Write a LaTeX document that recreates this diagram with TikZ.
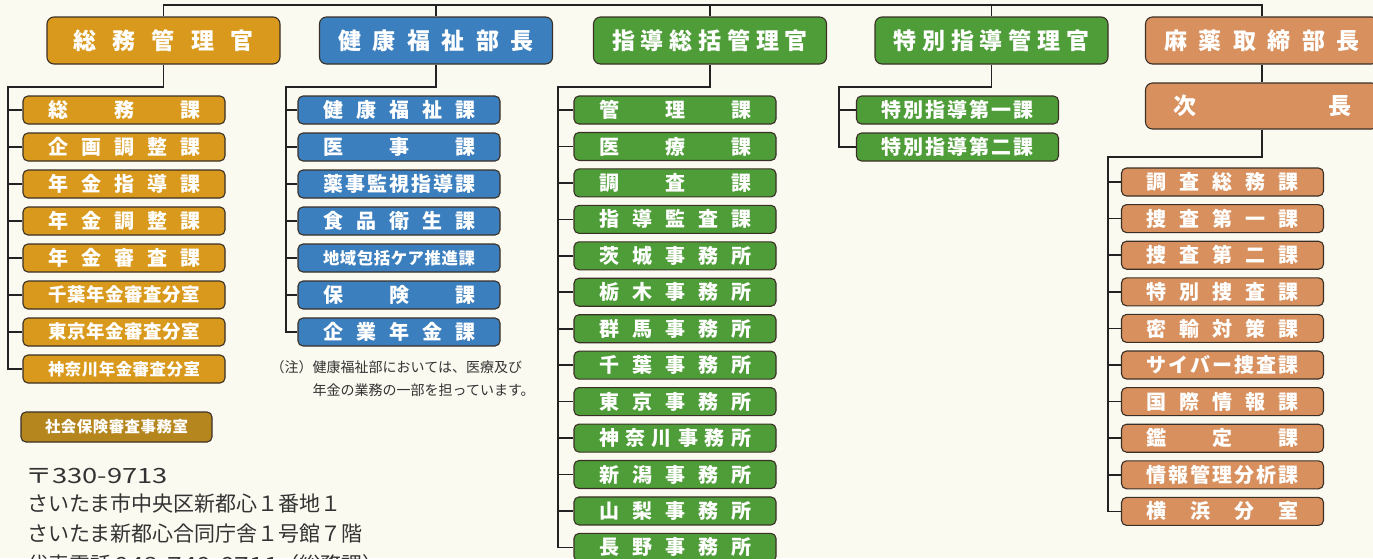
\documentclass[tikz,border=0pt]{standalone}
\usepackage{fontspec}
\setmainfont{Noto Sans CJK JP}
\usepackage{graphicx}
\definecolor{bg}{HTML}{FBFAF1}
\definecolor{cgold}{HTML}{D9991C}
\definecolor{cdgold}{HTML}{B5861E}
\definecolor{cblue}{HTML}{3C7FBE}
\definecolor{cgreen}{HTML}{4E9D38}
\definecolor{cpeach}{HTML}{D8915E}
\definecolor{edge}{HTML}{3A3026}
\definecolor{wirec}{HTML}{222222}
\definecolor{txt}{HTML}{333333}
\ExplSyntaxOn
\bool_new:N \l_my_first_bool
\tl_new:N \l_my_text_tl
\int_new:N \l_my_n_int
\dim_new:N \l_my_size_dim
\dim_new:N \l_my_fit_dim
\NewDocumentCommand \spread { m m m }
 {
  \tl_set:No \l_my_text_tl {#3}
  \int_set:Nn \l_my_n_int { \tl_count:N \l_my_text_tl }
  \dim_set:Nn \l_my_size_dim {#2}
  \dim_set:Nn \l_my_fit_dim { #1 * 97 / 100 / \l_my_n_int }
  \dim_compare:nNnT { \l_my_fit_dim } < { \l_my_size_dim }
   { \dim_set_eq:NN \l_my_size_dim \l_my_fit_dim }
  \fontsize{\dim_to_decimal:n {\l_my_size_dim}}{\dim_to_decimal:n {\l_my_size_dim}}\selectfont
  \makebox[#1][s]
   {
    \bool_set_true:N \l_my_first_bool
    \tl_map_inline:Nn \l_my_text_tl
     {
      \bool_if:NF \l_my_first_bool { \hfill }
      \bool_set_false:N \l_my_first_bool
      ##1
     }
   }
 }
\ExplSyntaxOff
\begin{document}
\begin{tikzpicture}[x=1pt,y=-1pt,
 hdr/.style={draw=edge,line width=1.1pt,rounded corners=7pt,minimum width=233pt,minimum height=47pt,inner sep=0pt,text=white,font=\bfseries},
 sub/.style={draw=edge,line width=1.1pt,rounded corners=5pt,minimum width=202pt,minimum height=28pt,inner sep=0pt,text=white,font=\bfseries},
 wire/.style={draw=wirec,line width=1.6pt},
 addr/.style={anchor=base west,inner sep=0pt,text=txt,font=\fontsize{21}{21}\selectfont},
 note/.style={anchor=base west,inner sep=0pt,text=txt,font=\fontsize{14}{14}\selectfont}]
\useasboundingbox (0,0) rectangle (1373,558);
\clip (0,0) rectangle (1373,558);
\fill[bg] (0,0) rectangle (1373,558);

% headers
\node[hdr,fill=cgold]  (h1) at (163.5,40.5) {\spread{180pt}{23pt}{総務管理官}};
\node[hdr,fill=cblue]  (h2) at (436,40.5)   {\spread{196pt}{23pt}{健康福祉部長}};
\node[hdr,fill=cgreen] (h3) at (710,40.5)   {\spread{196pt}{23pt}{指導総括管理官}};
\node[hdr,fill=cgreen] (h4) at (991.5,40.5) {\spread{196pt}{23pt}{特別指導管理官}};
\node[hdr,fill=cpeach] (h5) at (1262,40.5)  {\spread{196pt}{23pt}{麻薬取締部長}};
\node[hdr,fill=cpeach,minimum height=46pt] (d5) at (1262,106) {\spread{178pt}{23pt}{次長}};

% top bus
\coordinate (topy) at (0,5);
\draw[wire] (h1.north) -- (h1.north |- topy) -- (h5.north |- topy) -- (h5.north);
\foreach \h in {h2,h3,h4} \draw[wire] (\h.north) -- (\h.north |- topy);

% column 1
\foreach \tx [count=\i from 0] in {総務課,企画調整課,年金指導課,年金調整課,年金審査課,千葉年金審査分室,東京年金審査分室,神奈川年金審査分室}
  \node[sub,fill=cgold] (A\i) at (124,{110+37*\i}) {\spread{152pt}{20pt}{\tx}};
\coordinate (bus1) at (8,87);
\draw[wire] (h1.south) |- (bus1) |- (A7.west);
\foreach \i in {0,...,6} \draw[wire] (bus1 |- A\i.west) -- (A\i.west);

\node[sub,fill=cdgold,minimum width=191pt,minimum height=30pt] (S) at (116.5,427) {\spread{143pt}{16pt}{社会保険審査事務室}};

% column 2
\foreach \tx [count=\i from 0] in {健康福祉課,医事課,薬事監視指導課,食品衛生課,地域包括ケア推進課,保険課,企業年金課}
  \node[sub,fill=cblue] (B\i) at (399,{110+37*\i}) {\spread{152pt}{20pt}{\tx}};
\coordinate (bus2) at (286,87);
\draw[wire] (h2.south) |- (bus2) |- (B6.west);
\foreach \i in {0,...,5} \draw[wire] (bus2 |- B\i.west) -- (B\i.west);

\node[note] (n1) at (270.5,372) {（注）健康福祉部においては、医療及び};
\node[note] (n2) at (312.5,395) {年金の業務の一部を担っています。};

% column 3
\foreach \tx [count=\i from 0] in {管理課,医療課,調査課,指導監査課,茨城事務所,栃木事務所,群馬事務所,千葉事務所,東京事務所,神奈川事務所,新潟事務所,山梨事務所,長野事務所}
  \node[sub,fill=cgreen] (C\i) at (675,{110+36.45*\i}) {\spread{152pt}{20pt}{\tx}};
\coordinate (bus3) at (558,87);
\draw[wire] (h3.south) |- (bus3) |- (C12.west);
\foreach \i in {0,...,11} \draw[wire] (bus3 |- C\i.west) -- (C\i.west);

% column 4
\foreach \tx [count=\i from 0] in {特別指導第一課,特別指導第二課}
  \node[sub,fill=cgreen] (D\i) at (957.5,{110+37*\i}) {\spread{152pt}{20pt}{\tx}};
\coordinate (bus4) at (839,87);
\draw[wire] (h4.south) |- (bus4) |- (D1.west);
\draw[wire] (bus4 |- D0.west) -- (D0.west);

% column 5
\draw[wire] (h5.south) -- (d5.north);
\foreach \tx [count=\i from 0] in {調査総務課,捜査第一課,捜査第二課,特別捜査課,密輸対策課,サイバー捜査課,国際情報課,鑑定課,情報管理分析課,横浜分室}
  \node[sub,fill=cpeach] (E\i) at (1222.5,{182+36.6*\i}) {\spread{152pt}{20pt}{\tx}};
\coordinate (bus5) at (1108,157);
\draw[wire] (d5.south) |- (bus5) |- (E9.west);
\foreach \i in {0,...,8} \draw[wire] (bus5 |- E\i.west) -- (E\i.west);

% address
\node[addr] (p1) at (25,483) {\scalebox{1.3}[1]{〒330-9713}};
\node[addr] (p2) at (27,511) {さいたま市中央区新都心１番地１};
\node[addr] (p3) at (27,541) {さいたま新都心合同庁舎１号館７階};
\node[addr] (p4) at (27,572) {代表電話\,\scalebox{1.25}[1]{048-740-0711}（総務課）};
\end{tikzpicture}
\end{document}
